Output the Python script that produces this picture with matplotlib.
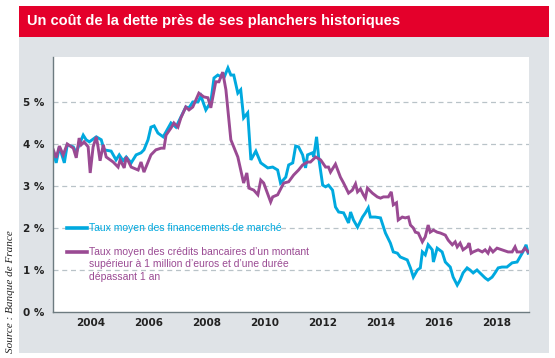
import numpy as np
import matplotlib.pyplot as plt
from matplotlib.patches import Rectangle

# Taux moyen des financements de marché (%)
march_years = [2002.73, 2002.83, 2002.94, 2003.11, 2003.21, 2003.42, 2003.52, 2003.59, 2003.76, 2003.86,
               2003.97, 2004.21, 2004.38, 2004.48, 2004.72, 2004.89, 2005.00, 2005.13, 2005.24, 2005.41,
               2005.58, 2005.75, 2005.85, 2005.99, 2006.09, 2006.20, 2006.33, 2006.51, 2006.61, 2006.78,
               2006.95, 2007.12, 2007.29, 2007.40, 2007.53, 2007.71, 2007.81, 2007.98, 2008.15, 2008.26,
               2008.39, 2008.50, 2008.56, 2008.60, 2008.74, 2008.84, 2008.94, 2009.08, 2009.18, 2009.28,
               2009.42, 2009.53, 2009.70, 2009.87, 2010.11, 2010.28, 2010.45, 2010.55, 2010.73, 2010.83,
               2010.97, 2011.07, 2011.17, 2011.31, 2011.41, 2011.48, 2011.65, 2011.69, 2011.79, 2011.86,
               2012.00, 2012.10, 2012.20, 2012.34, 2012.44, 2012.55, 2012.72, 2012.89, 2012.96, 2013.06,
               2013.20, 2013.37, 2013.47, 2013.57, 2013.64, 2013.81, 2013.99, 2014.16, 2014.33, 2014.43,
               2014.57, 2014.67, 2014.91, 2015.02, 2015.12, 2015.26, 2015.36, 2015.43, 2015.53, 2015.63,
               2015.77, 2015.81, 2015.94, 2016.11, 2016.22, 2016.39, 2016.49, 2016.63, 2016.73, 2016.83,
               2016.97, 2017.07, 2017.18, 2017.31, 2017.49, 2017.59, 2017.69, 2017.83, 2017.93, 2018.04,
               2018.17, 2018.34, 2018.52, 2018.69, 2018.79, 2018.89, 2019.00, 2019.07]
march_rates = [3.81, 3.55, 3.93, 3.55, 3.98, 3.93, 3.79, 3.93, 4.21, 4.10,
               4.05, 4.17, 4.10, 3.86, 3.83, 3.62, 3.74, 3.60, 3.69, 3.55,
               3.74, 3.79, 3.86, 4.10, 4.40, 4.43, 4.26, 4.17, 4.29, 4.50,
               4.40, 4.64, 4.88, 4.86, 5.00, 5.00, 5.14, 4.81, 5.00, 5.57,
               5.64, 5.60, 5.69, 5.57, 5.81, 5.64, 5.64, 5.21, 5.29, 4.62,
               4.74, 3.62, 3.83, 3.55, 3.43, 3.45, 3.38, 3.07, 3.21, 3.50,
               3.55, 3.95, 3.93, 3.74, 3.43, 3.74, 3.79, 3.69, 4.17, 3.69,
               3.02, 2.98, 3.02, 2.90, 2.50, 2.38, 2.36, 2.12, 2.38, 2.19,
               2.02, 2.26, 2.36, 2.48, 2.26, 2.26, 2.24, 1.88, 1.64, 1.43,
               1.40, 1.31, 1.24, 1.05, 0.83, 1.00, 1.05, 1.43, 1.36, 1.60,
               1.48, 1.19, 1.52, 1.43, 1.19, 1.07, 0.83, 0.64, 0.76, 0.93,
               1.05, 1.00, 0.93, 1.00, 0.88, 0.81, 0.76, 0.83, 0.93, 1.05,
               1.07, 1.07, 1.17, 1.19, 1.31, 1.43, 1.60, 1.40]

# Taux moyen des crédits bancaires > 1 M€ et > 1 an (%)
credit_years = [2002.73, 2002.83, 2002.94, 2003.07, 2003.21, 2003.42, 2003.52, 2003.62, 2003.69, 2003.79,
                2003.93, 2004.00, 2004.10, 2004.21, 2004.27, 2004.34, 2004.45, 2004.55, 2004.79, 2004.96,
                2005.03, 2005.17, 2005.24, 2005.41, 2005.65, 2005.75, 2005.85, 2005.99, 2006.09, 2006.26,
                2006.44, 2006.54, 2006.61, 2006.78, 2006.88, 2007.02, 2007.12, 2007.29, 2007.40, 2007.53,
                2007.74, 2007.91, 2008.05, 2008.15, 2008.32, 2008.43, 2008.56, 2008.67, 2008.84, 2009.08,
                2009.28, 2009.39, 2009.46, 2009.63, 2009.77, 2009.87, 2009.97, 2010.21, 2010.28, 2010.45,
                2010.66, 2010.83, 2011.00, 2011.17, 2011.31, 2011.48, 2011.58, 2011.76, 2011.93, 2012.10,
                2012.20, 2012.27, 2012.44, 2012.61, 2012.72, 2012.89, 2013.02, 2013.13, 2013.20, 2013.30,
                2013.40, 2013.47, 2013.54, 2013.71, 2013.88, 2013.99, 2014.09, 2014.26, 2014.36, 2014.43,
                2014.54, 2014.60, 2014.74, 2014.84, 2014.95, 2015.02, 2015.12, 2015.19, 2015.29, 2015.43,
                2015.53, 2015.63, 2015.70, 2015.81, 2015.94, 2016.05, 2016.22, 2016.32, 2016.46, 2016.56,
                2016.63, 2016.73, 2016.83, 2016.97, 2017.04, 2017.11, 2017.18, 2017.35, 2017.49, 2017.59,
                2017.69, 2017.76, 2017.86, 2018.00, 2018.17, 2018.38, 2018.52, 2018.62, 2018.69, 2018.86,
                2018.96, 2019.07]
credit_rates = [3.86, 3.67, 3.95, 3.74, 4.00, 3.90, 3.67, 4.14, 3.98, 4.05,
                3.93, 3.31, 3.93, 4.17, 3.93, 3.60, 3.98, 3.69, 3.57, 3.45,
                3.62, 3.43, 3.69, 3.45, 3.38, 3.57, 3.33, 3.57, 3.74, 3.86,
                3.90, 3.90, 4.21, 4.38, 4.50, 4.40, 4.62, 4.88, 4.81, 4.88,
                5.21, 5.12, 5.10, 4.86, 5.48, 5.48, 5.71, 5.29, 4.10, 3.69,
                3.07, 3.31, 2.95, 2.90, 2.79, 3.14, 3.07, 2.62, 2.74, 2.79,
                3.07, 3.10, 3.26, 3.38, 3.50, 3.57, 3.57, 3.69, 3.62, 3.45,
                3.45, 3.33, 3.52, 3.21, 3.07, 2.83, 2.90, 3.05, 2.86, 2.93,
                2.79, 2.71, 2.95, 2.83, 2.74, 2.71, 2.74, 2.74, 2.86, 2.55,
                2.60, 2.19, 2.26, 2.24, 2.26, 2.07, 2.00, 1.90, 1.88, 1.67,
                1.79, 2.07, 1.90, 1.95, 1.90, 1.88, 1.83, 1.71, 1.60, 1.67,
                1.55, 1.64, 1.48, 1.55, 1.64, 1.40, 1.43, 1.48, 1.43, 1.48,
                1.40, 1.52, 1.43, 1.52, 1.48, 1.43, 1.43, 1.55, 1.43, 1.43,
                1.52, 1.43]

yticks = [0, 1, 2, 3, 4, 5]
ytick_labels = ['0 %', '1 %', '2 %', '3 %', '4 %', '5 %']
xticks = [2004, 2006, 2008, 2010, 2012, 2014, 2016, 2018]

title = 'Un coût de la dette près de ses planchers historiques'
label_march = 'Taux moyen des financements de marché'
label_credit = ('Taux moyen des crédits bancaires d\u2019un montant\n'
                'supérieur à 1 million d\u2019euros et d\u2019une durée\n'
                'dépassant 1 an')
source = 'Source : Banque de France'

BLUE = '#00a9df'
PURPLE = '#9a4a93'
RED = '#e4002b'
GREY_BG = '#dfe3e7'

W, H = 555, 358


def fx(x):
    return x / W


def fy(y):
    return 1 - y / H


fig = plt.figure(figsize=(W / 100, H / 100), dpi=100)
fig.patch.set_facecolor('white')

# panel backgrounds
fig.add_artist(Rectangle((fx(19), fy(353)), fx(549) - fx(19), fy(37) - fy(353),
                         transform=fig.transFigure, facecolor=GREY_BG, edgecolor='none', zorder=0))
fig.add_artist(Rectangle((fx(19), fy(37)), fx(549) - fx(19), fy(6) - fy(37),
                         transform=fig.transFigure, facecolor=RED, edgecolor='none', zorder=0))
fig.text(fx(27), fy(21.5), title, color='white', fontsize=10.5, fontweight='bold',
         family='Liberation Sans', va='center', ha='left')

ax = fig.add_axes([fx(53), fy(312), fx(529) - fx(53), fy(57) - fy(312)])
ax.set_facecolor('white')

ax.plot(march_years, march_rates, color=BLUE, lw=2.1, solid_joinstyle='miter')
ax.plot(credit_years, credit_rates, color=PURPLE, lw=2.1, solid_joinstyle='miter')

ax.set_xlim(2002.72, 2019.1)
ax.set_ylim(0, 6.07)
ax.set_yticks(yticks)
ax.set_yticklabels(ytick_labels)
ax.set_xticks(xticks)
ax.set_xticklabels([str(x) for x in xticks])
ax.tick_params(length=0, labelsize=7.5, colors='#222222', pad=6)
for lab in ax.get_xticklabels() + ax.get_yticklabels():
    lab.set_fontweight('bold')
ax.tick_params(axis='x', pad=4)

for yv in yticks[1:]:
    ax.axhline(yv, color='#b9c3c8', lw=0.9, ls=(0, (4, 3)), zorder=0)

for s in ['top', 'right']:
    ax.spines[s].set_visible(False)
for s in ['left', 'bottom']:
    ax.spines[s].set_color('#6d7b80')
    ax.spines[s].set_linewidth(1.0)

# legend drawn by hand
ax.plot([2003.2, 2003.9], [2.0, 2.0], color=BLUE, lw=2.6, clip_on=False)
ax.text(2003.95, 2.0, label_march, color=BLUE, fontsize=7.5, family='Liberation Sans',
        va='center', ha='left')
ax.plot([2003.2, 2003.9], [1.43, 1.43], color=PURPLE, lw=2.6, clip_on=False)
ax.text(2003.95, 1.55, label_credit, color=PURPLE, fontsize=7.5, family='Liberation Sans',
        va='top', ha='left', linespacing=1.32)

fig.text(fx(11), fy(353), source, rotation=90, fontsize=8, style='italic',
         family='Liberation Serif', color='#222222', ha='center', va='bottom')

fig.savefig('out.png', dpi=100)
